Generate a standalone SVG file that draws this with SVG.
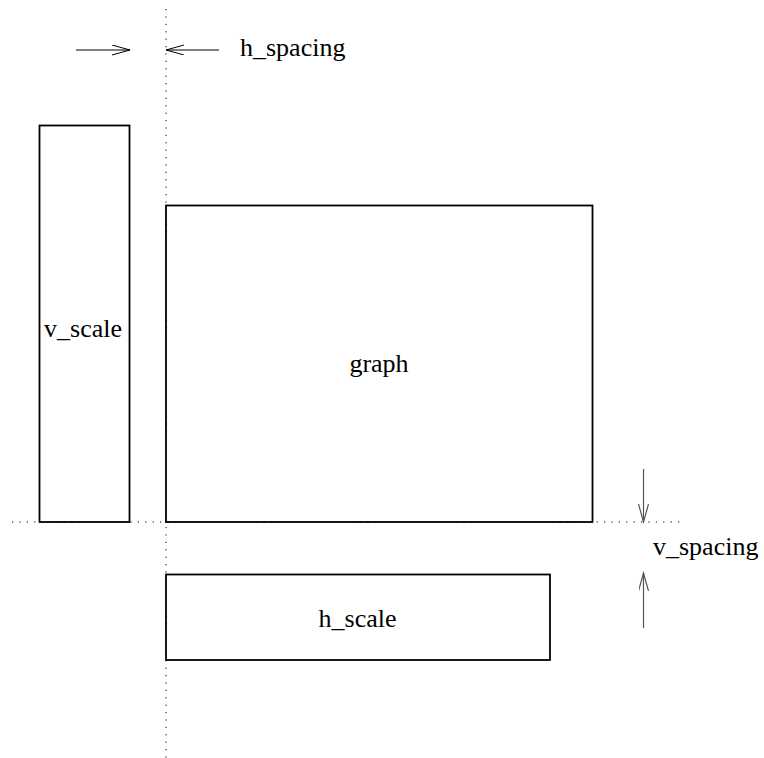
<svg xmlns="http://www.w3.org/2000/svg" width="764" height="758" viewBox="0 0 764 758">
<defs>
<style>
.box{fill:none;stroke:#000;stroke-width:1.8}
.dot{fill:none;stroke:#000;stroke-width:1;stroke-dasharray:1.2 6.2}
.arr{fill:none;stroke:#000;stroke-width:1}
.garr{fill:none;stroke:#555;stroke-width:1.2}
.t{font-family:'Liberation Serif','Times New Roman',serif;font-size:26px;fill:#000}
</style>
<marker id="v" markerUnits="userSpaceOnUse" markerWidth="20" markerHeight="12" refX="18" refY="5" orient="auto">
<path d="M0,0 L18,5 L0,10" fill="none" stroke="#000" stroke-width="1"/>
</marker>
<marker id="vg" markerUnits="userSpaceOnUse" markerWidth="20" markerHeight="12" refX="18" refY="5" orient="auto">
<path d="M0,0 L18,5 L0,10" fill="none" stroke="#555" stroke-width="1.2"/>
</marker>
</defs>
<g id="connectors">
<line class="dot" x1="166" y1="9" x2="166" y2="758"/>
<line class="dot" x1="12" y1="522" x2="685" y2="522"/>
<line class="arr" x1="76" y1="50" x2="130" y2="50" marker-end="url(#v)"/>
<line class="arr" x1="219" y1="50" x2="166" y2="50" marker-end="url(#v)"/>
<line class="garr" x1="643.5" y1="469" x2="643.5" y2="522" marker-end="url(#vg)"/>
<line class="garr" x1="643.5" y1="628" x2="643.5" y2="573" marker-end="url(#vg)"/>
</g>
<g id="v_scale">
<rect class="box" x="39.5" y="125.5" width="90" height="396.5"/>
<text class="t" x="83" y="337" text-anchor="middle">v_scale</text>
</g>
<g id="graph">
<rect class="box" x="166" y="205.5" width="426.5" height="316.5"/>
<text class="t" x="379" y="372" text-anchor="middle">graph</text>
</g>
<g id="h_scale">
<rect class="box" x="166" y="574.5" width="384" height="85.5"/>
<text class="t" x="357.5" y="627" text-anchor="middle">h_scale</text>
</g>
<g id="labels">
<text class="t" x="240" y="56">h_spacing</text>
<text class="t" x="653" y="555">v_spacing</text>
</g>
</svg>
